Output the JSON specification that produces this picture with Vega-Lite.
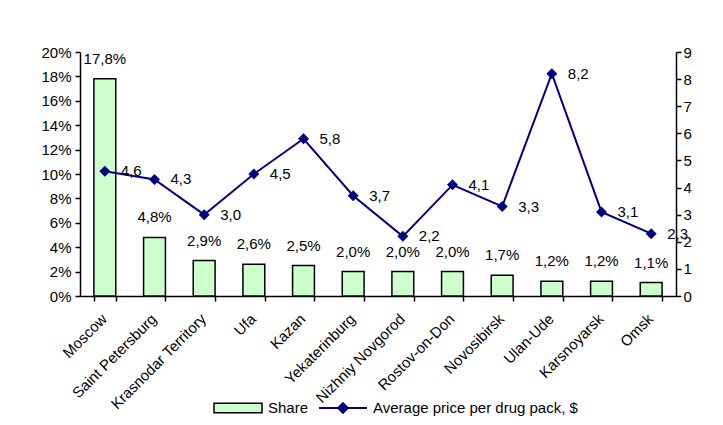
{
  "$schema": "https://vega.github.io/schema/vega-lite/v6.json",
  "width": 596,
  "height": 244,
  "autosize": {"type": "none"},
  "padding": {"left": 80, "top": 52, "right": 47, "bottom": 129},
  "background": "white",
  "config": {
    "locale": {"number": {"decimal": ",", "thousands": " ", "grouping": [3], "currency": ["", ""]}},
    "font": "Liberation Sans",
    "view": {"stroke": null},
    "axis": {
      "labelFont": "Liberation Sans",
      "labelFontSize": 15,
      "labelColor": "#000",
      "domainColor": "#000",
      "tickColor": "#000",
      "domainWidth": 1.5,
      "tickWidth": 1.5,
      "tickSize": 5,
      "grid": false,
      "title": null
    },
    "legend": {
      "labelFont": "Liberation Sans",
      "labelFontSize": 15,
      "labelColor": "#000",
      "labelLimit": 400,
      "padding": 0
    }
  },
  "data": {
    "values": [
      {"city": "Moscow", "share": 0.178, "price": 4.6},
      {"city": "Saint Petersburg", "share": 0.048, "price": 4.3},
      {"city": "Krasnodar Territory", "share": 0.029, "price": 3.0},
      {"city": "Ufa", "share": 0.026, "price": 4.5},
      {"city": "Kazan", "share": 0.025, "price": 5.8},
      {"city": "Yekaterinburg", "share": 0.020, "price": 3.7},
      {"city": "Nizhniy Novgorod", "share": 0.020, "price": 2.2},
      {"city": "Rostov-on-Don", "share": 0.020, "price": 4.1},
      {"city": "Novosibirsk", "share": 0.017, "price": 3.3},
      {"city": "Ulan-Ude", "share": 0.012, "price": 8.2},
      {"city": "Karsnoyarsk", "share": 0.012, "price": 3.1},
      {"city": "Omsk", "share": 0.011, "price": 2.3}
    ]
  },
  "encoding": {
    "x": {
      "field": "city",
      "type": "nominal",
      "sort": null,
      "scale": {"paddingInner": 0.56, "paddingOuter": 0.28},
      "axis": {"labelAngle": -45, "labelAlign": "right", "labelBaseline": "top", "labelOffset": -6, "tickBand": "extent", "title": null, "labelPadding": 10}
    }
  },
  "layer": [
    {
      "encoding": {
        "y": {
          "field": "share",
          "type": "quantitative",
          "scale": {"domain": [0, 0.2], "nice": false},
          "axis": {"orient": "left", "format": ".0%", "values": [0, 0.02, 0.04, 0.06, 0.08, 0.1, 0.12, 0.14, 0.16, 0.18, 0.2], "title": null, "labelPadding": 4}
        }
      },
      "layer": [
        {
          "mark": {"type": "bar", "stroke": "#000", "strokeWidth": 1.5},
          "encoding": {
            "fill": {
              "datum": "Share",
              "scale": {"range": ["#CCFFCC"]},
              "legend": {
                "orient": "none",
                "legendX": 133,
                "legendY": 331,
                "title": null,
                "symbolType": "M-1,-0.2H1V0.2H-1Z",
                "symbolSize": 2304,
                "symbolStrokeColor": "#000",
                "symbolStrokeWidth": 1.5,
                "labelOffset": 5
              }
            }
          }
        },
        {
          "mark": {"type": "text", "baseline": "alphabetic", "dy": -15, "fontSize": 15, "font": "Liberation Sans", "fill": "#000"},
          "encoding": {"text": {"field": "share", "type": "quantitative", "format": ".1%"}}
        }
      ]
    },
    {
      "encoding": {
        "y": {
          "field": "price",
          "type": "quantitative",
          "scale": {"domain": [0, 9], "nice": false},
          "axis": {"orient": "right", "values": [0, 1, 2, 3, 4, 5, 6, 7, 8, 9], "title": null, "labelPadding": 2}
        }
      },
      "layer": [
        {
          "mark": {"type": "line", "strokeWidth": 2},
          "encoding": {
            "stroke": {
              "datum": "Average price per drug pack, $",
              "scale": {"range": ["#000080"]},
              "legend": {
                "orient": "none",
                "legendX": 238,
                "legendY": 331,
                "title": null,
                "symbolType": "M-1,0H1M0,-0.2L0.2,0L0,0.2L-0.2,0Z",
                "symbolSize": 2304,
                "symbolFillColor": "#000080",
                "symbolStrokeWidth": 2,
                "labelOffset": 5
              }
            }
          }
        },
        {
          "mark": {"type": "point", "shape": "diamond", "filled": true, "size": 121, "color": "#000080", "opacity": 1},
          "encoding": {}
        },
        {
          "mark": {"type": "text", "align": "left", "baseline": "middle", "dx": 16, "fontSize": 15, "font": "Liberation Sans", "fill": "#000"},
          "encoding": {"text": {"field": "price", "type": "quantitative", "format": ".1f"}}
        }
      ]
    }
  ],
  "resolve": {"scale": {"y": "independent", "fill": "independent", "stroke": "independent"}}
}
